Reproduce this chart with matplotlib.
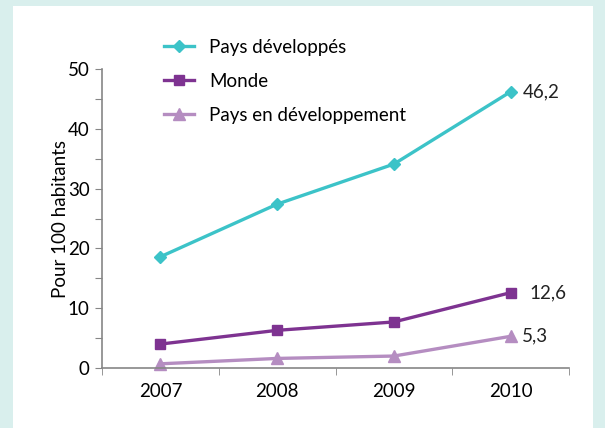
import matplotlib
matplotlib.use('Agg')
import matplotlib.pyplot as plt
from matplotlib.patches import Rectangle
from matplotlib.ticker import MultipleLocator, FuncFormatter

plt.rcParams['font.family'] = ['Lato', 'DejaVu Sans']

years = ['2007', '2008', '2009', '2010']
developpes = [18.6, 27.4, 34.1, 46.2]
monde = [4.0, 6.3, 7.7, 12.6]
en_dev = [0.7, 1.6, 2.0, 5.3]
end_labels = ['46,2', '12,6', '5,3']

fs = 13.5
fig = plt.figure(figsize=(6.05, 4.28), dpi=100)
fig.patch.set_facecolor('#d9efed')
fig.patches.append(Rectangle((13/605, 0), 580/605, 422/428, transform=fig.transFigure,
                             facecolor='white', edgecolor='none', zorder=-5))

ax = fig.add_axes([102/605, 1-368/428, 467/605, 299/428])
ax.set_facecolor('none')
x = range(len(years))
c1, c2, c3 = '#3cc3c8', '#7e3391', '#b58dc1'
ax.plot(x, developpes, color=c1, lw=2.4, marker='D', ms=6.5, label='Pays développés', clip_on=False)
ax.plot(x, monde, color=c2, lw=2.4, marker='s', ms=7.5, label='Monde', clip_on=False)
ax.plot(x, en_dev, color=c3, lw=2.4, marker='^', ms=8, label='Pays en développement', clip_on=False)

ax.text(3.1, developpes[3], end_labels[0], va='center', ha='left', fontsize=fs, color='#222222')
ax.text(3.16, monde[3], end_labels[1], va='center', ha='left', fontsize=fs, color='#222222')
ax.text(3.1, en_dev[3], end_labels[2], va='center', ha='left', fontsize=fs, color='#222222')

ax.set_xlim(-0.5, 3.5)
ax.set_ylim(0, 50)
ax.set_xticks(x)
ax.set_xticklabels(years)
ax.set_xticks([-0.5, 0.5, 1.5, 2.5, 3.5], minor=True)
ax.tick_params(axis='x', which='major', length=0, pad=11, labelsize=fs)
ax.tick_params(axis='x', which='minor', length=5, color='#868686', direction='out')
ax.yaxis.set_major_locator(MultipleLocator(5))
ax.yaxis.set_major_formatter(FuncFormatter(lambda v, p: '%d' % v if v % 10 == 0 else ''))
ax.tick_params(axis='y', length=5, color='#868686', labelsize=fs, pad=4)
for s in ['top', 'right']:
    ax.spines[s].set_visible(False)
for s in ['left', 'bottom']:
    ax.spines[s].set_color('#868686')
    ax.spines[s].set_linewidth(1.2)
ax.set_ylabel('Pour 100 habitants', fontsize=fs, labelpad=-1)

fig.legend(loc='upper left', bbox_to_anchor=(147/605, 1-22/428), frameon=False,
           fontsize=fs, handlelength=1.6, handletextpad=0.8, labelspacing=0.9)

fig.savefig('out.png', dpi=100)
